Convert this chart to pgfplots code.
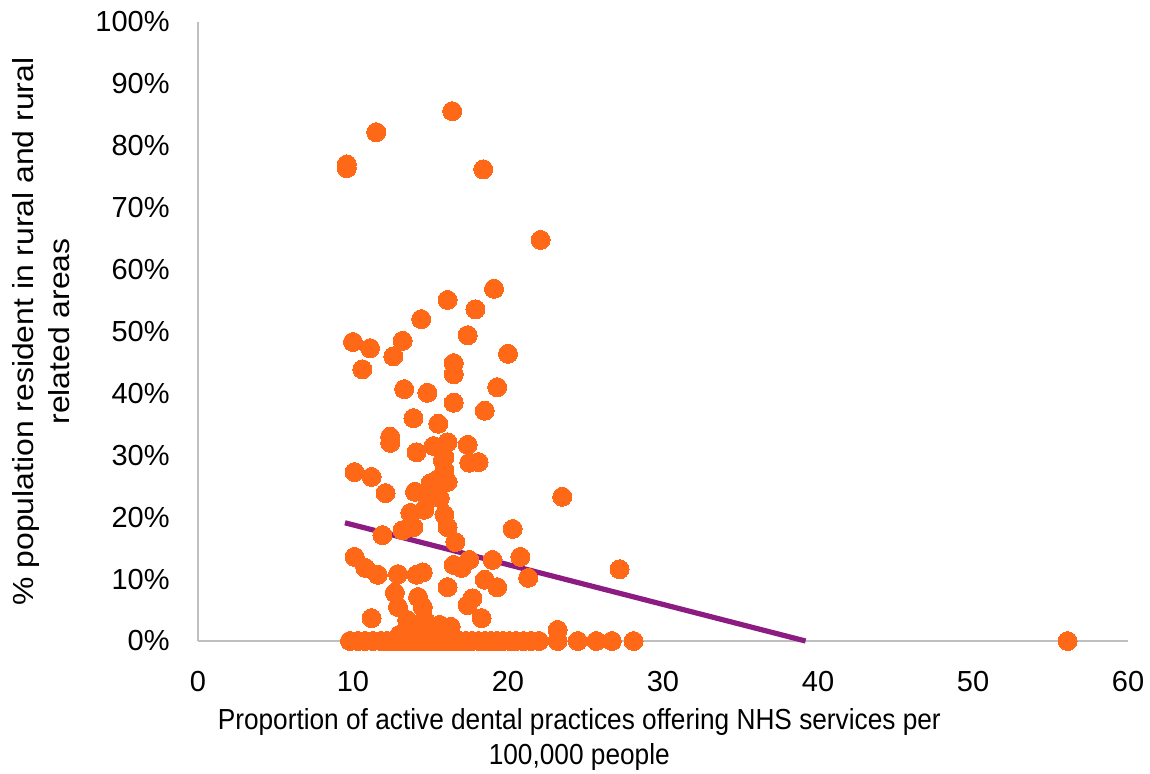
\documentclass[border=0pt]{standalone}
\usepackage{pgfplots}
\pgfplotsset{compat=1.18}
\usepackage{fontspec}
\setmainfont{Liberation Sans}
\definecolor{dotor}{RGB}{255,104,22}
\definecolor{trendp}{RGB}{140,28,130}
\definecolor{axgray}{RGB}{191,191,191}
\begin{document}
\begin{tikzpicture}
\path[use as bounding box] (0,0) rectangle (575pt,386.5pt);
\begin{axis}[
  at={(99pt,66pt)}, anchor=south west,
  scale only axis, width=465pt, height=309.5pt,
  xmin=0, xmax=60, ymin=0, ymax=100,
  xtick={0,10,...,60}, ytick={0,10,...,100},
  yticklabel={\pgfmathprintnumber{\tick}\%},
  /pgf/number format/assume math mode=true,
  major tick length=0pt,
  axis x line=bottom, axis y line=left,
  axis line style={draw=axgray, line width=1pt, -},
  tick label style={font=\fontsize{14.5}{17}\selectfont, text=black},
  yticklabel style={inner sep=0pt, anchor=east, xshift=-14pt},
  xticklabel style={inner sep=0pt, anchor=north, yshift=-15pt},
  xlabel={\scalebox{0.905}[1]{\begin{tabular}{@{}c@{}}Proportion of active dental practices offering NHS services per\\100,000 people\end{tabular}}},
  ylabel={\scalebox{1.1}[1]{\begin{tabular}{@{}c@{}}\% population resident in rural and rural\\related areas\end{tabular}}},
  xlabel style={font=\fontsize{14.5}{17.5}\selectfont, at={(axis description cs:0.41,-0.16)}, anchor=center},
  ylabel style={font=\fontsize{14.5}{18}\selectfont, at={(axis description cs:-0.165,0.5)}, anchor=center},
  clip=false,
]
\addplot[dotor, only marks, mark=*, mark size=4.75pt, mark options={draw=dotor, fill=dotor, line width=0pt}] coordinates {
(9.6,76.4) (9.6,77.0) (11.5,82.2) (16.4,85.6) (18.4,76.2) (22.1,64.8)
(19.1,56.9) (16.1,55.1) (17.9,53.6) (14.4,52.0) (17.4,49.4) (10.0,48.3)
(11.1,47.3) (13.2,48.5) (12.6,46.0) (10.6,43.9) (16.5,44.9) (16.5,43.1)
(20.0,46.4) (13.3,40.7) (14.8,40.1) (16.5,38.5) (19.3,41.0) (18.5,37.2)
(13.9,36.0) (15.5,35.1) (12.4,33.0) (12.4,32.0) (14.1,30.5) (15.2,31.5)
(16.1,32.1) (17.4,31.7) (15.9,29.7) (17.5,28.8) (18.1,28.9)
(10.1,27.3) (11.2,26.5) (12.1,23.9) (14.0,24.1) (15.0,25.5) (15.4,26.0)
(15.9,27.6) (15.8,29.2) (16.1,25.7) (15.6,23.1) (14.8,23.3)
(13.7,20.7) (14.6,21.2) (15.9,20.4) (16.1,18.4) (13.2,17.9) (13.9,18.4)
(11.9,17.1) (16.6,16.0) (20.3,18.1) (23.5,23.3)
(10.1,13.6) (10.8,11.8) (11.6,10.7) (12.9,10.8) (14.1,10.7) (14.5,11.1)
(12.7,7.8) (12.9,5.5) (14.2,7.1) (14.5,5.5) (14.6,3.5) (14.3,2.0) (14.8,1.2)
(11.2,3.7) (13.5,3.4) (13.6,1.8) (13.0,1.0)
(16.5,12.3) (17.0,11.8) (17.5,13.1) (16.1,8.7) (17.4,5.8) (17.7,6.9)
(18.3,3.7) (18.5,9.9) (19.3,8.7) (19.0,13.1) (20.8,13.6) (21.3,10.2)
(15.6,2.6) (16.3,2.3) (23.2,1.8) (27.2,11.6)
(9.8,0) (10.3,0) (10.8,0) (11.3,0) (11.8,0) (12.2,0) (12.6,0) (13.0,0)
(13.3,0) (13.6,0) (13.9,0) (14.1,0) (14.3,0) (14.6,0) (14.9,0) (15.2,0)
(15.5,0) (15.8,0) (16.1,0) (16.5,0) (16.9,0) (17.3,0) (17.7,0) (18.1,0)
(18.5,0) (18.9,0) (19.3,0) (19.7,0) (20.1,0) (20.5,0) (21.0,0) (21.5,0)
(22.0,0) (23.2,0) (24.5,0) (25.7,0) (26.7,0) (28.1,0) (56.1,0)
};
\addplot[trendp, line width=2.6pt] coordinates {(9.48,19.1) (39.2,0)};
\end{axis}
\end{tikzpicture}
\end{document}
